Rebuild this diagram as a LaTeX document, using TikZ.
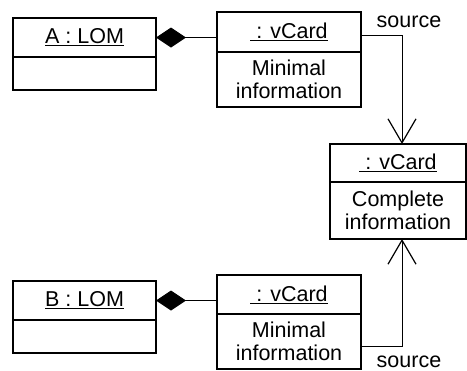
\documentclass[tikz,border=0pt]{standalone}
\usepackage{fontspec}
\setmainfont{Liberation Sans}
\usetikzlibrary{arrows.meta,positioning}

\begin{document}
\begin{tikzpicture}[x=1bp, y=1bp,
    every node/.style={font=\fontsize{21.5bp}{23bp}\selectfont},
    box/.style={draw, line width=1.2bp, inner sep=0pt, outer sep=0pt, align=center},
    comp/.style={line width=1bp, -{Diamond[length=30bp, width=20bp]}},
    src/.style={line width=1bp, -{Straight Barb[length=24bp, width=28bp, line width=1.2bp]}}]
    \useasboundingbox (0,0) rectangle (467,-370);

    % A : LOM
    \node[box, minimum width=143bp, minimum height=39bp] (aHead) at (84.5,-37.5) {\underline{A : LOM}};
    \node[box, minimum width=143bp, minimum height=33bp, below=0pt of aHead] (aBody) {};

    % B : LOM
    \node[box, minimum width=143bp, minimum height=39bp] (bHead) at (84.5,-300.5) {\underline{B : LOM}};
    \node[box, minimum width=143bp, minimum height=33bp, below=0pt of bHead] (bBody) {};

    % vCards with minimal information
    \node[box, minimum width=144bp, minimum height=40bp] (vTopHead) at (289,-32) {\underline{\ : vCard}};
    \node[box, minimum width=144bp, minimum height=55bp, below=0pt of vTopHead] (vTopBody) {Minimal\\information};
    \node[box, minimum width=144bp, minimum height=39bp] (vBotHead) at (289,-294.5) {\underline{\ : vCard}};
    \node[box, minimum width=144bp, minimum height=55bp, below=0pt of vBotHead] (vBotBody) {Minimal\\information};

    % vCard with complete information
    \node[box, minimum width=136bp, minimum height=38bp] (cHead) at (398,-163) {\underline{\ : vCard}};
    \node[box, minimum width=136bp, minimum height=57bp, below=0pt of cHead] (cBody) {Complete\\information};

    % Composition
    \draw[comp] (aHead.east -| vTopHead.west) -- (aHead.east);
    \draw[comp] (bHead.east -| vBotHead.west) -- (bHead.east);

    % Source links
    \draw[src] ([yshift=-3bp]vTopHead.east) -| ([xshift=4bp]cHead.north);
    \draw[src] ([yshift=-5bp]vBotBody.east) -| ([xshift=4bp]cBody.south);
    \node (srcTop) at (409,-22) {source};
    \node (srcBot) at (409,-362) {source};
\end{tikzpicture}
\end{document}
